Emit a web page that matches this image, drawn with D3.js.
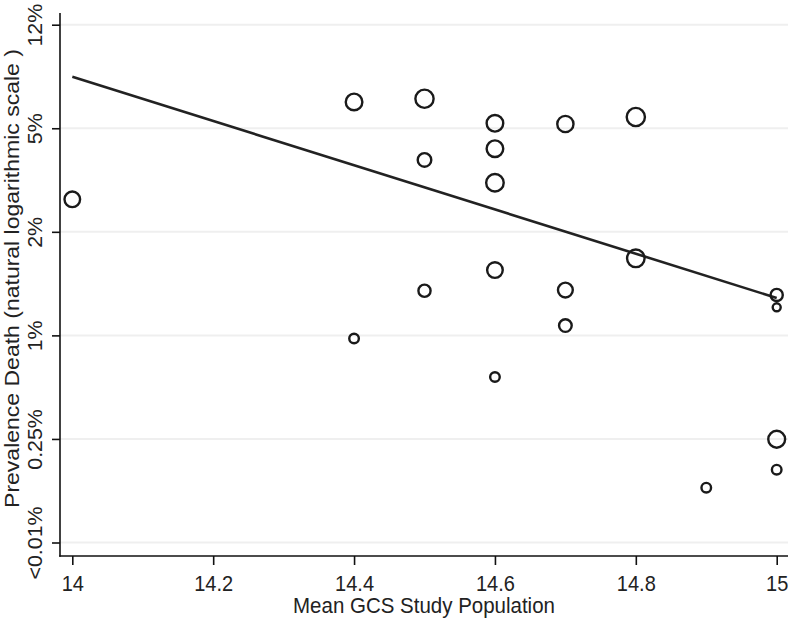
<!DOCTYPE html>
<html>
<head>
<meta charset="utf-8">
<script src="https://cdn.jsdelivr.net/npm/d3@7"></script>
<style>
  html, body { margin: 0; padding: 0; background: #fff; }
  svg { display: block; }
  text { font-family: "Liberation Sans", Arial, sans-serif; fill: #222; }
</style>
</head>
<body>
<script>
// ---- data (y values are natural log of prevalence proportion) ----
const gcsMean = [14, 14.4, 14.4, 14.5, 14.5, 14.5, 14.6, 14.6, 14.6, 14.6, 14.6,
                 14.7, 14.7, 14.7, 14.8, 14.8, 14.9, 15, 15, 15, 15];
const lnPrevalence = [-3.686, -2.746, -5.030, -2.715, -3.306, -4.569, -2.952, -3.197, -3.526, -4.369, -5.402,
                      -2.959, -4.562, -4.905, -2.891, -4.256, -6.471, -4.610, -4.729, -6.003, -6.297];
const studyWeight = [61, 69, 23, 83, 46, 37, 69, 69, 77, 61, 23,
                     66, 55, 40, 83, 77, 23, 37, 16, 71, 23];
const fitX = [14, 15];
const fitY = [-2.502, -4.639];
const xTicks = [14, 14.2, 14.4, 14.6, 14.8, 15];
const xTickLabels = ["14", "14.2", "14.4", "14.6", "14.8", "15"];
const yTicks = [-2, -3, -4, -5, -6, -7];
const yTickLabels = ["12%", "5%", "2%", "1%", "0.25%", "<0.01%"];
const xTitle = "Mean GCS Study Population";
const yTitle = "Prevalence Death (natural logarithmic scale )";

// ---- layout ----
const W = 792, H = 619;
const plotLeft = 60, plotRight = 788, plotTop = 13, plotBottom = 556;

const x = d3.scaleLinear().domain([14, 15]).range([72.3, 776.7]);
const y = d3.scaleLinear().domain([-2, -7]).range([24.7, 542.5]);
const r = d3.scaleSqrt().domain([0, 100]).range([0, 10]);

const svg = d3.select("body").append("svg").attr("width", W).attr("height", H);

// gridlines
svg.append("g").selectAll("line").data(yTicks).join("line")
  .attr("x1", plotLeft).attr("x2", plotRight)
  .attr("y1", d => y(d)).attr("y2", d => y(d))
  .attr("stroke", "#efefef").attr("stroke-width", 2);

// y axis
const yAxis = svg.append("g").attr("transform", `translate(${plotLeft},0)`)
  .call(d3.axisLeft(y).tickValues(yTicks).tickSize(8).tickFormat(""));
yAxis.select(".domain").remove();
yAxis.selectAll(".tick line").attr("stroke", "#111").attr("stroke-width", 1.6);
yAxis.selectAll(".tick").append("text")
  .attr("transform", "translate(-18,0) rotate(-90) scale(1.07,1)")
  .attr("text-anchor", "middle")
  .attr("font-size", 20)
  .attr("fill", "#222")
  .text((d, i) => yTickLabels[i]);

// x axis
const xAxis = svg.append("g").attr("transform", `translate(0,${plotBottom})`)
  .call(d3.axisBottom(x).tickValues(xTicks).tickSize(9).tickFormat(""));
xAxis.select(".domain").remove();
xAxis.selectAll(".tick line").attr("stroke", "#111").attr("stroke-width", 1.6);
xAxis.selectAll(".tick").append("text")
  .attr("transform", "translate(0,35) scale(1,1.1)")
  .attr("text-anchor", "middle")
  .attr("font-size", 20)
  .attr("fill", "#222")
  .text((d, i) => xTickLabels[i]);

// axis lines
svg.append("line").attr("x1", plotLeft).attr("x2", plotLeft)
  .attr("y1", plotTop).attr("y2", plotBottom + 0.8)
  .attr("stroke", "#111").attr("stroke-width", 1.6);
svg.append("line").attr("x1", plotLeft - 0.8).attr("x2", plotRight)
  .attr("y1", plotBottom).attr("y2", plotBottom)
  .attr("stroke", "#111").attr("stroke-width", 1.6);

// titles
svg.append("text")
  .attr("transform", `translate(${(plotLeft + plotRight) / 2},613) scale(1,1.1)`)
  .attr("text-anchor", "middle").attr("font-size", 20.5)
  .text(xTitle);
svg.append("text")
  .attr("transform", `translate(19,${(plotTop + plotBottom) / 2 - 6}) rotate(-90) scale(1.15,1)`)
  .attr("text-anchor", "middle").attr("font-size", 20)
  .text(yTitle);

// fitted line
const line = d3.line().x(d => x(d[0])).y(d => y(d[1]));
svg.append("path")
  .datum(fitX.map((v, i) => [v, fitY[i]]))
  .attr("d", line)
  .attr("fill", "none").attr("stroke", "#222").attr("stroke-width", 2.6);

// bubbles
svg.append("g").selectAll("circle")
  .data(gcsMean.map((v, i) => ({ x: v, y: lnPrevalence[i], w: studyWeight[i] })))
  .join("circle")
  .attr("cx", d => x(d.x)).attr("cy", d => y(d.y)).attr("r", d => r(d.w))
  .attr("fill", "none").attr("stroke", "#1a1a1a").attr("stroke-width", 2.4);
</script>
</body>
</html>
